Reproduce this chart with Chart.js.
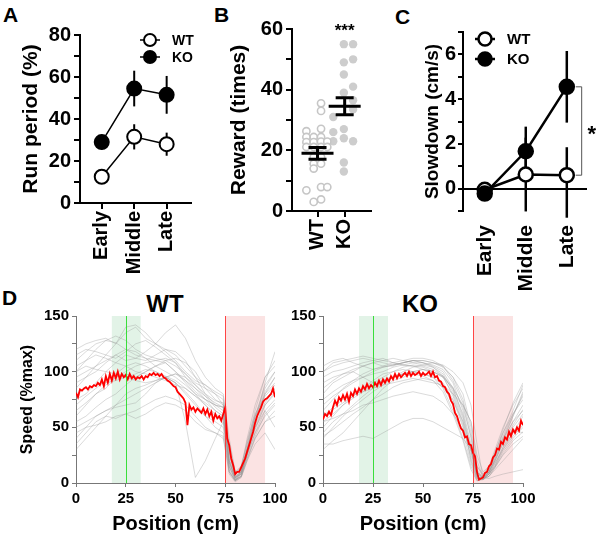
<!DOCTYPE html>
<html>
<head>
<meta charset="utf-8">
<script src="https://cdn.jsdelivr.net/npm/chart.js@4.4.0/dist/chart.umd.min.js"></script>
<style>
  body { margin: 0; background: #fff; width: 600px; height: 537px; position: relative; overflow: hidden;
         font-family: "Liberation Sans", Arial, Helvetica, sans-serif; }
  canvas { position: absolute; }
  .lbl { position: absolute; font-weight: bold; color: #000; white-space: nowrap; }
</style>
</head>
<body>
<div class="lbl" style="left:3px;top:4px;font-size:21px;line-height:21px">A</div>
<div class="lbl" style="left:214px;top:4px;font-size:21px;line-height:21px">B</div>
<div class="lbl" style="left:395px;top:6px;font-size:21px;line-height:21px">C</div>
<div class="lbl" style="left:2px;top:287px;font-size:21px;line-height:21px">D</div>
<div class="lbl" style="left:125px;top:292px;width:80px;text-align:center;font-size:24px;line-height:24px">WT</div>
<div class="lbl" style="left:380px;top:292px;width:80px;text-align:center;font-size:24px;line-height:24px">KO</div>

<canvas id="chartA" width="200" height="290" style="left:0;top:0"></canvas>
<canvas id="chartB" width="190" height="290" style="left:200px;top:0"></canvas>
<canvas id="chartC" width="210" height="290" style="left:390px;top:0"></canvas>
<canvas id="chartWT" width="292" height="237" style="left:0;top:300px"></canvas>
<canvas id="chartKO" width="310" height="237" style="left:290px;top:300px"></canvas>

<script>
// ---- panel A: run period ----
const phases = ["Early", "Middle", "Late"];
const runWT = [12.5, 31.5, 28];
const runWTerr = [1.2, 6, 5.5];
const runKO = [29, 54.5, 51.5];
const runKOerr = [3.5, 8.5, 9];

// ---- panel B: reward ----
const groups = ["WT", "KO"];
const rewardWT = [35.5, 33, 27.1, 26.3, 24.4, 24.4, 24.4, 22.7, 22.7, 22.9, 22.9, 21.1, 21.1, 21.1, 21.1,
                  17.8, 17.8, 15.6, 15.6, 14, 6.8, 7.9, 7.9, 3, 3.8];
const rewardWTjitter = [0.13, 0.13, 0.13, -0.41, -0.41, -0.14, 0.13, -0.41, -0.14, 0.13, 0.36, -0.41, -0.14, 0.13, 0.36,
                        -0.14, 0.13, -0.14, 0.13, -0.14, -0.41, 0.13, 0.36, -0.14, 0.13];
const rewardKO = [55, 55, 49, 50, 45, 41, 39, 36.5, 33.5, 31, 27, 26, 24, 23, 23, 16, 13];
const rewardKOjitter = [-0.03, 0.31, -0.03, 0.31, -0.03, 0.31, -0.03, 0.31, 0.31, -0.42, -0.03, -0.42, -0.03, 0.31, -0.42, -0.03, -0.03];
const rewardMean = [19, 34.5];
const rewardSem = [1.9, 2.8];

// ---- panel C: slowdown ----
const slowWT = [-0.05, 0.63, 0.6];
const slowWTup = [0.25, 1.65, 1.25];
const slowWTdown = [0.25, 1.65, 1.9];
const slowKO = [-0.22, 1.67, 4.55];
const slowKOerr = [0.25, 1.1, 1.6];

// ---- panel D: speed profiles ----
const tracePos = [0, 5, 10, 15, 20, 25, 30, 35, 40, 45, 50, 55, 60, 65, 70, 74, 77, 80, 83, 86, 90, 95, 100];
const speedWT = [
  [120, 125, 128, 130, 125, 135, 140, 130, 125, 118, 110, 100, 92, 88, 82, 78, 30, 5, 8, 25, 55, 90, 118],
  [100, 110, 120, 128, 132, 128, 120, 115, 112, 110, 105, 98, 90, 85, 80, 75, 20, 4, 10, 35, 65, 95, 110],
  [85, 95, 105, 115, 125, 140, 142, 135, 125, 120, 115, 105, 95, 88, 80, 70, 15, 3, 6, 30, 60, 85, 100],
  [75, 80, 90, 100, 108, 115, 112, 110, 115, 120, 118, 110, 95, 80, 70, 65, 12, 2, 10, 30, 55, 80, 95],
  [60, 70, 80, 85, 95, 100, 105, 108, 110, 112, 108, 95, 85, 75, 70, 68, 25, 8, 15, 35, 60, 75, 85],
  [95, 100, 105, 110, 115, 110, 112, 118, 125, 135, 142, 130, 110, 95, 85, 80, 40, 10, 12, 30, 55, 80, 90],
  [40, 50, 60, 65, 70, 75, 80, 85, 90, 95, 90, 80, 70, 60, 55, 50, 10, 2, 8, 25, 45, 60, 70],
  [35, 45, 55, 60, 58, 62, 65, 70, 75, 78, 75, 70, 60, 50, 45, 42, 8, 1, 5, 20, 40, 55, 60],
  [105, 110, 115, 112, 108, 105, 100, 98, 95, 92, 88, 85, 78, 72, 65, 60, 20, 5, 8, 28, 50, 70, 80],
  [50, 55, 60, 65, 68, 70, 72, 80, 90, 95, 98, 92, 82, 75, 65, 60, 15, 3, 6, 25, 45, 65, 75],
  [70, 78, 85, 92, 98, 105, 108, 105, 100, 95, 90, 55, 5, 20, 40, 55, 10, 2, 6, 22, 40, 55, 65],
  [55, 60, 68, 75, 80, 88, 95, 100, 105, 108, 100, 90, 80, 70, 60, 55, 18, 5, 10, 30, 50, 65, 50],
  [110, 118, 125, 128, 126, 120, 115, 112, 110, 108, 100, 92, 85, 78, 72, 68, 22, 6, 10, 32, 60, 88, 100],
  [45, 50, 52, 55, 60, 62, 58, 62, 68, 72, 70, 65, 55, 48, 45, 40, 10, 2, 5, 20, 35, 45, 30],
  [90, 95, 100, 108, 115, 120, 118, 112, 105, 100, 95, 88, 80, 75, 70, 68, 30, 8, 12, 40, 70, 95, 105],
  [65, 72, 80, 88, 95, 98, 95, 100, 105, 110, 112, 108, 100, 85, 75, 70, 35, 10, 15, 38, 62, 78, 88],
  [115, 120, 118, 115, 112, 118, 125, 128, 122, 115, 108, 98, 88, 80, 74, 72, 28, 6, 10, 30, 58, 82, 95],
  [80, 85, 88, 90, 92, 95, 98, 102, 100, 96, 92, 85, 78, 70, 62, 58, 18, 4, 8, 26, 48, 70, 82],
  [30, 40, 50, 60, 70, 80, 85, 88, 92, 95, 98, 95, 88, 78, 68, 62, 20, 5, 9, 28, 52, 72, 85],
  [100, 105, 102, 100, 98, 95, 92, 90, 92, 95, 90, 82, 72, 60, 50, 45, 15, 3, 6, 22, 42, 62, 72]
];
const speedKO = [
  [100, 105, 108, 110, 112, 110, 108, 106, 108, 110, 108, 105, 100, 85, 60, 30, 8, 5, 12, 25, 45, 65, 88],
  [95, 100, 102, 105, 108, 110, 112, 108, 106, 105, 102, 98, 90, 75, 50, 25, 5, 4, 10, 22, 40, 60, 80],
  [80, 90, 95, 100, 105, 108, 105, 105, 108, 110, 110, 108, 105, 95, 75, 45, 15, 8, 15, 30, 50, 70, 85],
  [65, 75, 85, 92, 98, 102, 105, 108, 106, 105, 104, 100, 95, 80, 55, 20, 4, 5, 12, 28, 45, 62, 75],
  [50, 60, 70, 78, 85, 92, 98, 100, 102, 100, 98, 95, 88, 70, 45, 18, 3, 4, 10, 22, 38, 55, 65],
  [40, 50, 60, 68, 75, 82, 88, 95, 98, 100, 98, 95, 85, 65, 40, 15, 2, 4, 8, 18, 32, 45, 55],
  [30, 38, 45, 55, 65, 75, 85, 92, 95, 98, 96, 92, 82, 62, 38, 12, 2, 3, 8, 15, 28, 40, 50],
  [35, 35, 38, 40, 42, 40, 45, 50, 55, 58, 58, 55, 50, 45, 40, 30, 10, 4, 6, 12, 20, 30, 40],
  [60, 68, 75, 80, 82, 85, 88, 90, 92, 94, 92, 90, 88, 80, 70, 55, 20, 5, 10, 20, 35, 48, 45],
  [90, 95, 98, 100, 95, 90, 92, 95, 98, 100, 102, 100, 95, 85, 70, 55, 25, 10, 15, 25, 40, 55, 70],
  [45, 55, 62, 70, 78, 85, 90, 95, 100, 104, 106, 108, 106, 100, 90, 70, 35, 5, 4, 6, 8, 10, 12],
  [75, 82, 88, 92, 95, 98, 100, 104, 106, 108, 108, 106, 102, 90, 65, 35, 10, 5, 8, 15, 30, 45, 60],
  [55, 58, 62, 65, 70, 72, 75, 78, 80, 82, 80, 78, 72, 62, 48, 30, 8, 4, 6, 14, 25, 35, 42],
  [100, 108, 110, 112, 114, 112, 110, 108, 110, 112, 112, 110, 105, 92, 72, 40, 10, 5, 10, 20, 38, 60, 82],
  [85, 92, 98, 102, 105, 108, 110, 112, 110, 108, 106, 104, 98, 82, 58, 28, 6, 4, 10, 24, 42, 62, 78],
  [70, 78, 84, 90, 95, 100, 104, 106, 108, 110, 108, 104, 96, 78, 52, 22, 4, 3, 9, 20, 36, 52, 66],
  [55, 62, 70, 76, 82, 88, 92, 96, 98, 100, 102, 100, 96, 86, 68, 42, 12, 4, 8, 18, 30, 42, 52],
  [105, 110, 112, 108, 105, 102, 104, 106, 108, 110, 110, 108, 104, 95, 80, 50, 15, 6, 12, 26, 48, 72, 90],
  [42, 48, 55, 62, 68, 75, 80, 86, 90, 92, 94, 92, 86, 74, 55, 30, 6, 3, 6, 14, 26, 38, 46],
  [60, 66, 72, 78, 84, 90, 95, 100, 104, 106, 105, 102, 96, 84, 62, 32, 6, 3, 8, 16, 32, 50, 62]
];
// mean traces, one value per cm (0..100)
const meanWT = [81, 77, 84, 83, 85, 86, 84, 87, 86, 88, 87, 90, 88, 93, 87, 96, 90, 98, 92, 99,
                94, 100, 93, 98, 95, 97, 93, 98, 94, 96, 93, 95, 94, 96, 93, 96, 95, 98, 97, 99,
                97, 98, 96, 98, 95, 94, 92, 91, 89, 87, 86, 82, 80, 78, 76, 72, 52, 70, 66, 68,
                64, 67, 65, 63, 67, 62, 66, 60, 64, 56, 62, 58, 60, 56, 62, 68, 40, 34, 22, 16,
                8, 10, 10, 14, 18, 22, 28, 34, 40, 46, 54, 60, 64, 68, 73, 75, 76, 78, 80, 85, 77];
const meanKO = [57, 62, 60, 64, 61, 68, 74, 70, 77, 74, 79, 75, 80, 73, 81, 78, 84, 80, 85, 82,
                87, 84, 89, 85, 88, 86, 90, 87, 92, 88, 93, 90, 94, 91, 96, 93, 98, 94, 98, 95,
                97, 99, 96, 100, 96, 99, 97, 98, 100, 96, 99, 97, 98, 100, 96, 100, 95, 96, 92, 91,
                87, 86, 82, 80, 74, 71, 63, 60, 54, 49, 47, 41, 42, 35, 34, 27, 24, 10, 3, 4,
                5, 9, 10, 15, 17, 23, 25, 31, 30, 37, 35, 41, 39, 46, 42, 48, 45, 50, 47, 56, 52];
const meanPos = Array.from({ length: meanWT.length }, (_, i) => i);
const startZone = [18, 32.5];
const rewardZone = [75, 95];
const cueLine = 25;

const FONT = '"Liberation Sans", Arial, Helvetica, sans-serif';
Chart.defaults.font.family = FONT;
Chart.defaults.font.weight = 'bold';
Chart.defaults.color = '#000';
Chart.defaults.animation = false;
Chart.defaults.plugins.legend.display = false;
Chart.defaults.plugins.tooltip.enabled = false;

// vertical error bars read from dataset.errUp / errDown
function errorBars(opts) {
  const hook = opts.onTop ? 'afterDatasetsDraw' : 'beforeDatasetsDraw';
  return {
    id: 'errorBars',
    [hook](chart) {
      const ctx = chart.ctx;
      const xs = chart.scales.x, ys = chart.scales.y;
      chart.data.datasets.forEach(ds => {
        if (!ds.errUp) return;
        const down = ds.errDown || ds.errUp;
        ctx.save();
        ctx.strokeStyle = '#000';
        ctx.lineWidth = opts.width;
        ds.data.forEach((p, i) => {
          const x = xs.getPixelForValue(p.x);
          const y1 = ys.getPixelForValue(p.y + ds.errUp[i]);
          const y2 = ys.getPixelForValue(p.y - down[i]);
          ctx.beginPath();
          ctx.moveTo(x, y1); ctx.lineTo(x, y2);
          if (opts.cap) {
            ctx.moveTo(x - opts.cap, y1); ctx.lineTo(x + opts.cap, y1);
            ctx.moveTo(x - opts.cap, y2); ctx.lineTo(x + opts.cap, y2);
          }
          ctx.stroke();
        });
        ctx.restore();
      });
    }
  };
}

// small legend: line + circle marker + label
function markerLegend(opts) {
  return {
    id: 'markerLegend',
    afterDraw(chart) {
      const ctx = chart.ctx, area = chart.chartArea;
      chart.data.datasets.forEach((ds, i) => {
        const x = area.left + opts.dx, y = area.top + opts.dy + i * opts.gap;
        ctx.save();
        ctx.strokeStyle = '#000';
        ctx.lineWidth = ds.borderWidth;
        ctx.beginPath(); ctx.moveTo(x - 10, y); ctx.lineTo(x + 10, y); ctx.stroke();
        ctx.beginPath(); ctx.arc(x, y, opts.r, 0, Math.PI * 2);
        ctx.fillStyle = ds.pointBackgroundColor; ctx.fill();
        ctx.lineWidth = ds.pointBorderWidth; ctx.stroke();
        ctx.fillStyle = '#000';
        ctx.font = 'bold ' + opts.size + 'px ' + FONT;
        ctx.textBaseline = 'middle';
        ctx.fillText(ds.label, x + opts.textDx, y + 1);
        ctx.restore();
      });
    }
  };
}

function categoryTicks(names) {
  return function (scale) {
    scale.ticks = names.map((n, i) => ({ value: i + scale.options.firstIndex }));
  };
}

// ---------- A ----------
new Chart(document.getElementById('chartA'), {
  type: 'line',
  data: {
    datasets: [
      { label: 'WT', data: runWT.map((v, i) => ({ x: i, y: v })), errUp: runWTerr,
        borderColor: '#000', borderWidth: 1.5, pointRadius: 7, pointBackgroundColor: '#fff',
        pointBorderColor: '#000', pointBorderWidth: 2 },
      { label: 'KO', data: runKO.map((v, i) => ({ x: i, y: v })), errUp: runKOerr,
        borderColor: '#000', borderWidth: 1.5, pointRadius: 7, pointBackgroundColor: '#000',
        pointBorderColor: '#000', pointBorderWidth: 2 }
    ]
  },
  options: {
    responsive: false,
    layout: { padding: { left: 15, top: 35, right: 2, bottom: 0 } },
    scales: {
      x: {
        type: 'linear', min: -0.67, max: 2.75, firstIndex: 0,
        afterBuildTicks: categoryTicks(phases),
        afterFit: s => { s.height = 87; },
        ticks: { callback: v => phases[v], font: { size: 20 }, minRotation: 90, maxRotation: 90, padding: 2, autoSkip: false },
        grid: { drawOnChartArea: false, tickLength: 6, color: '#000', lineWidth: 2 },
        border: { color: '#000', width: 2 }
      },
      y: {
        min: 0, max: 80,
        afterFit: s => { s.width = 65; },
        ticks: { stepSize: 10, callback: v => (v % 20 === 0 ? v : ''), font: { size: 20 }, padding: 3, autoSkip: false },
        grid: { drawOnChartArea: false, tickLength: 6, color: '#000', lineWidth: 2 },
        border: { color: '#000', width: 2 },
        title: { display: true, text: 'Run period (%)', font: { size: 21 }, padding: { top: 4, bottom: 4 } }
      }
    }
  },
  plugins: [errorBars({ width: 2, cap: 0 }), markerLegend({ dx: 70, dy: 5, gap: 17, r: 6, textDx: 22, size: 14 })]
});

// ---------- B ----------
new Chart(document.getElementById('chartB'), {
  type: 'scatter',
  data: {
    datasets: [
      { label: 'mean', order: 0, data: rewardMean.map((v, i) => ({ x: i + 1, y: v })), errUp: rewardSem,
        pointStyle: 'line', pointRadius: 16, borderColor: '#000', pointBorderWidth: 3, borderWidth: 3 },
      { label: 'WT', order: 1, data: rewardWT.map((v, i) => ({ x: 1 + rewardWTjitter[i], y: v })),
        pointRadius: 3.6, backgroundColor: '#fff', borderColor: '#c6c6c6', borderWidth: 1.6 },
      { label: 'KO', order: 1, data: rewardKO.map((v, i) => ({ x: 2 + rewardKOjitter[i], y: v })),
        pointRadius: 4.2, backgroundColor: '#cdcdcd', borderColor: '#cdcdcd', borderWidth: 0 }
    ]
  },
  options: {
    responsive: false,
    layout: { padding: { left: 23, top: 29, right: 8, bottom: 0 } },
    scales: {
      x: {
        type: 'linear', min: 0.06, max: 2.97, firstIndex: 1,
        afterBuildTicks: categoryTicks(groups),
        afterFit: s => { s.height = 79; },
        ticks: { callback: v => groups[v - 1], font: { size: 20 }, minRotation: 90, maxRotation: 90, padding: 2, autoSkip: false },
        grid: { drawOnChartArea: false, tickLength: 6, color: '#000', lineWidth: 2 },
        border: { color: '#000', width: 2 }
      },
      y: {
        min: 0, max: 60,
        afterFit: s => { s.width = 69; },
        ticks: { stepSize: 10, callback: v => (v % 20 === 0 ? v : ''), font: { size: 20 }, padding: 3, autoSkip: false },
        grid: { drawOnChartArea: false, tickLength: 6, color: '#000', lineWidth: 2 },
        border: { color: '#000', width: 2 },
        title: { display: true, text: 'Reward (times)', font: { size: 21 }, padding: { top: 4, bottom: 4 } }
      }
    }
  },
  plugins: [errorBars({ width: 3, cap: 9, onTop: true }), {
    id: 'stars',
    afterDraw(chart) {
      const ctx = chart.ctx;
      ctx.save();
      ctx.font = 'bold 17px ' + FONT;
      ctx.textAlign = 'center';
      ctx.textBaseline = 'middle';
      ctx.fillText('***', chart.scales.x.getPixelForValue(2), chart.scales.y.getPixelForValue(60) + 2);
      ctx.restore();
    }
  }]
});

// ---------- C ----------
new Chart(document.getElementById('chartC'), {
  type: 'line',
  data: {
    datasets: [
      { label: 'WT', order: 1, data: slowWT.map((v, i) => ({ x: i, y: v })), errUp: slowWTup, errDown: slowWTdown,
        borderColor: '#000', borderWidth: 2.5, pointRadius: 7, pointBackgroundColor: '#fff',
        pointBorderColor: '#000', pointBorderWidth: 2.5 },
      { label: 'KO', order: 0, data: slowKO.map((v, i) => ({ x: i, y: v })), errUp: slowKOerr,
        borderColor: '#000', borderWidth: 2.5, pointRadius: 7, pointBackgroundColor: '#000',
        pointBorderColor: '#000', pointBorderWidth: 2.5 }
    ]
  },
  options: {
    responsive: false,
    clip: false,
    layout: { padding: { left: 27, top: 32, right: 13, bottom: 0 } },
    scales: {
      x: {
        type: 'linear', min: -0.53, max: 2.46, firstIndex: 0,
        afterBuildTicks: categoryTicks(phases),
        afterFit: s => { s.height = 79; },
        ticks: { callback: v => phases[v], font: { size: 21 }, minRotation: 90, maxRotation: 90, padding: 6, autoSkip: false },
        grid: { display: false },
        border: { display: false }
      },
      x2: {
        type: 'linear', min: -0.53, max: 2.46, firstIndex: 0, position: { y: 0 },
        afterBuildTicks: categoryTicks(phases),
        ticks: { display: false },
        grid: { drawOnChartArea: false, tickLength: 6, color: '#000', lineWidth: 2 },
        border: { color: '#000', width: 2 }
      },
      y: {
        min: -1, max: 7,
        afterFit: s => { s.width = 46; },
        ticks: { stepSize: 1, callback: v => (v >= 0 && v % 2 === 0 ? v : ''), font: { size: 20 }, padding: 2, autoSkip: false },
        grid: { drawOnChartArea: false, tickLength: 5, color: '#000', lineWidth: 2 },
        border: { color: '#000', width: 2 },
        title: { display: true, text: 'Slowdown (cm/s)', font: { size: 19 }, padding: { top: 4, bottom: 4 } }
      }
    }
  },
  plugins: [errorBars({ width: 2.5, cap: 0 }), markerLegend({ dx: 22, dy: 7, gap: 20, r: 6.5, textDx: 22, size: 15 }), {
    id: 'bracket',
    afterDraw(chart) {
      const ctx = chart.ctx, ys = chart.scales.y;
      const x = chart.chartArea.right - 4;
      const yTop = ys.getPixelForValue(slowKO[2]), yBot = ys.getPixelForValue(slowWT[2]);
      ctx.save();
      ctx.strokeStyle = '#555';
      ctx.lineWidth = 1;
      ctx.beginPath();
      ctx.moveTo(x - 6, yTop); ctx.lineTo(x, yTop); ctx.lineTo(x, yBot); ctx.lineTo(x - 6, yBot);
      ctx.stroke();
      ctx.fillStyle = '#000';
      ctx.font = 'bold 22px ' + FONT;
      ctx.textAlign = 'center';
      ctx.textBaseline = 'middle';
      ctx.fillText('*', x + 10, (yTop + yBot) / 2 + 4);
      ctx.restore();
    }
  }]
});

// ---------- D ----------
function zonesPlugin() {
  return {
    id: 'zones',
    beforeDatasetsDraw(chart) {
      const ctx = chart.ctx, xs = chart.scales.x, a = chart.chartArea;
      ctx.save();
      ctx.fillStyle = '#e2f3e7';
      ctx.fillRect(xs.getPixelForValue(startZone[0]), a.top, xs.getPixelForValue(startZone[1]) - xs.getPixelForValue(startZone[0]), a.bottom - a.top);
      ctx.fillStyle = '#fbe3e3';
      ctx.fillRect(xs.getPixelForValue(rewardZone[0]), a.top, xs.getPixelForValue(rewardZone[1]) - xs.getPixelForValue(rewardZone[0]), a.bottom - a.top);
      ctx.restore();
    },
    afterDatasetsDraw(chart) {
      const ctx = chart.ctx, xs = chart.scales.x, a = chart.chartArea;
      ctx.save();
      ctx.setLineDash([]);
      ctx.lineWidth = 1;
      ctx.strokeStyle = 'rgba(40,220,40,0.9)';
      let x = Math.round(xs.getPixelForValue(cueLine)) + 0.5;
      ctx.beginPath(); ctx.moveTo(x, a.top); ctx.lineTo(x, a.bottom); ctx.stroke();
      ctx.strokeStyle = 'rgba(255,40,40,0.85)';
      x = Math.round(xs.getPixelForValue(rewardZone[0])) + 0.5;
      ctx.beginPath(); ctx.moveTo(x, a.top); ctx.lineTo(x, a.bottom); ctx.stroke();
      ctx.restore();
    }
  };
}

function speedChart(id, traces, mean, opts) {
  const datasets = traces.map(t => ({
    order: 1, data: tracePos.map((x, i) => ({ x: x, y: t[i] })),
    borderColor: 'rgba(150,150,150,0.45)', borderWidth: 0.8, pointRadius: 0
  }));
  datasets.unshift({
    order: 0, data: meanPos.map((x, i) => ({ x: x, y: mean[i] })),
    borderColor: '#ff0000', borderWidth: 1.8, pointRadius: 0
  });
  return new Chart(document.getElementById(id), {
    type: 'line',
    data: { datasets: datasets },
    options: {
      responsive: false,
      layout: { padding: opts.padding },
      scales: {
        x: {
          type: 'linear', min: 0, max: 100,
          afterFit: s => { s.height = 54; },
          ticks: { stepSize: 25, font: { size: 15 }, padding: 3, maxRotation: 0, autoSkip: false },
          grid: { drawOnChartArea: false, tickLength: 4, color: '#777', lineWidth: 1 },
          border: { color: '#777', width: 1 },
          title: { display: true, text: 'Position (cm)', font: { size: 20 }, padding: { top: 0, bottom: 1 } }
        },
        y: {
          min: 0, max: 150,
          afterFit: s => { s.width = opts.yWidth; },
          ticks: { stepSize: 25, callback: v => (v % 50 === 0 ? v : ''), font: { size: 15 }, padding: 3, autoSkip: false },
          grid: { drawOnChartArea: false, tickLength: 4, color: '#777', lineWidth: 1 },
          border: { color: '#777', width: 1 },
          title: { display: opts.yTitle, text: 'Speed (%max)', font: { size: 16 }, padding: { top: 4, bottom: 4 } }
        }
      }
    },
    plugins: [zonesPlugin()]
  });
}

speedChart('chartWT', speedWT, meanWT, { padding: { left: 14, top: 16, right: 17, bottom: 0 }, yWidth: 62, yTitle: true });
speedChart('chartKO', speedKO, meanKO, { padding: { left: 0, top: 16, right: 77, bottom: 0 }, yWidth: 33, yTitle: false });
</script>
</body>
</html>
